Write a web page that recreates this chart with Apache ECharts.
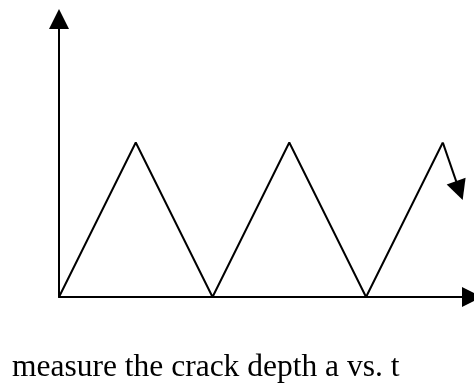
<!DOCTYPE html>
<html>
<head>
<meta charset="utf-8">
<script src="https://cdn.jsdelivr.net/npm/echarts@6/dist/echarts.min.js"></script>
<style>
	html, body { margin: 0; padding: 0; background: #fff; }
	#chart { width: 474px; height: 388px; }
</style>
</head>
<body>
<div id="chart"></div>
<script>
// time steps and crack depth of the triangle wave
var waveT = [ 0, 1, 2, 3, 4, 5 ];
var waveA = [ 0, 1, 0, 1, 0, 1 ];
// last falling piece, ends in an arrow
var tailT = [ 5, 5.216 ];
var tailA = [ 1, 0.689 ];
var caption = 'measure the crack depth a vs. t';

var chart = echarts.init(document.getElementById('chart'));

var waveData = [];
for (var i = 0; i < waveT.length; i++) {
	waveData.push([ waveT[i], waveA[i] ]);
}
var tailCoords = [];
for (var j = 0; j < tailT.length; j++) {
	tailCoords.push([ tailT[j], tailA[j] ]);
}

var axisLine = {
	show : true,
	onZero : false,
	symbol : [ 'none', 'triangle' ],
	symbolSize : [ 20, 20 ],
	lineStyle : {
		color : '#000',
		width : 2
	}
};

option = {
	backgroundColor : '#fff',
	animation : false,
	title : {
		text : caption,
		left : 7,
		top : 347,
		textStyle : {
			fontFamily : 'Liberation Serif',
			fontSize : 31.5,
			fontWeight : 'normal',
			color : '#000'
		}
	},
	grid : {
		left : 59,
		right : 2,
		top : 19,
		bottom : 91
	},
	xAxis : {
		type : 'value',
		min : 0,
		max : 5.38,
		axisLine : axisLine,
		axisTick : { show : false },
		axisLabel : { show : false },
		splitLine : { show : false }
	},
	yAxis : {
		type : 'value',
		min : 0,
		max : 1.8,
		axisLine : axisLine,
		axisTick : { show : false },
		axisLabel : { show : false },
		splitLine : { show : false }
	},
	series : [ {
		type : 'line',
		data : waveData,
		symbol : 'none',
		lineStyle : {
			color : '#000',
			width : 2
		}
	}, {
		type : 'lines',
		coordinateSystem : 'cartesian2d',
		symbol : [ 'none', 'triangle' ],
		symbolSize : [ 19, 20 ],
		data : [ {
			coords : tailCoords
		} ],
		lineStyle : {
			color : '#000',
			width : 2,
			opacity : 1
		}
	} ]
};
chart.setOption(option);
</script>
</body>
</html>
